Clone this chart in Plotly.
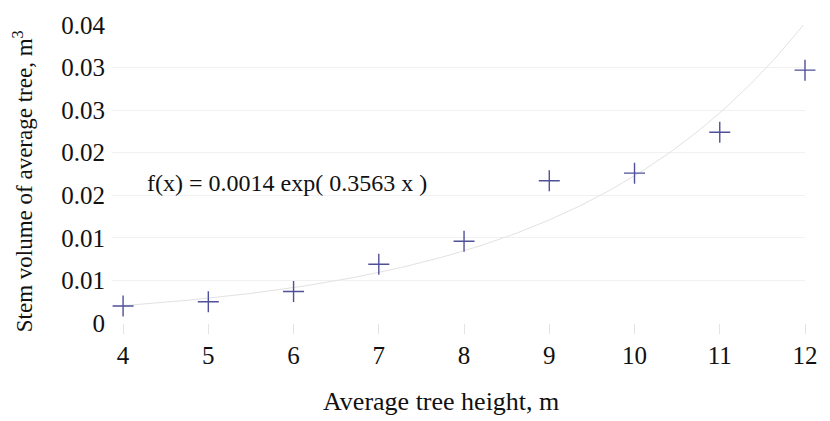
import numpy as np
import plotly.graph_objects as go

heights = [4, 5, 6, 7, 8, 9, 10, 11, 12]
volumes = [0.0020, 0.0025, 0.0037, 0.0069, 0.0096, 0.0167, 0.0176, 0.0224, 0.0297]

# trend curve coefficients as drawn in the picture
fit_a = 0.00049
fit_b = 0.3563

y_tickvals = [0, 0.005, 0.010, 0.015, 0.020, 0.025, 0.030, 0.035]
y_ticktext = ["0", "0.01", "0.01", "0.02", "0.02", "0.03", "0.03", "0.04"]
x_tickvals = [4, 5, 6, 7, 8, 9, 10, 11, 12]

xs = np.linspace(4, 12, 200)
ys = fit_a * np.exp(fit_b * xs)

font = "Liberation Serif, Times New Roman, serif"

fig = go.Figure()
fig.add_trace(go.Scatter(x=xs, y=ys, mode="lines",
                         line=dict(color="#e2e2e2", width=1), hoverinfo="skip"))
fig.add_trace(go.Scatter(x=heights, y=volumes, mode="markers",
                         marker=dict(symbol="cross-thin", size=15,
                                     line=dict(color="#50509a", width=1.4)),
                         cliponaxis=False))

fig.add_annotation(xref="x", yref="y", x=5.92, y=0.0165,
                   text="f(x) = 0.0014 exp( 0.3563 x )",
                   showarrow=False, font=dict(family=font, size=24, color="#111"))
# axis titles
fig.add_annotation(xref="paper", yref="paper", x=0.475, y=-0.262,
                   text="Average tree height, m", showarrow=False,
                   xanchor="center", yanchor="middle",
                   font=dict(family=font, size=26, color="#111"))
fig.add_annotation(xref="paper", yref="paper", x=-0.1277, y=0.474,
                   text="Stem volume of average tree, m<sup>3</sup>", showarrow=False,
                   textangle=-90, xanchor="center", yanchor="middle",
                   font=dict(family=font, size=23, color="#111"))

fig.update_layout(
    width=830, height=421,
    margin=dict(l=112, r=13, t=17, b=98),
    paper_bgcolor="white", plot_bgcolor="white",
    showlegend=False,
    font=dict(family=font, size=25, color="#111"),
)
fig.update_xaxes(range=[3.87, 12], tickvals=x_tickvals, showgrid=False,
                 zeroline=False, showline=False,
                 ticks="outside", ticklen=10, tickcolor="#e4e4e4",
                 tickfont=dict(size=25))
fig.update_yaxes(range=[0, 0.035], tickvals=y_tickvals, ticktext=y_ticktext,
                 showgrid=True, gridcolor="#f1f1f1", gridwidth=1,
                 zeroline=False, showline=False, ticks="", ticklabelstandoff=6,
                 tickfont=dict(size=25))
fig.write_html("out.html")
